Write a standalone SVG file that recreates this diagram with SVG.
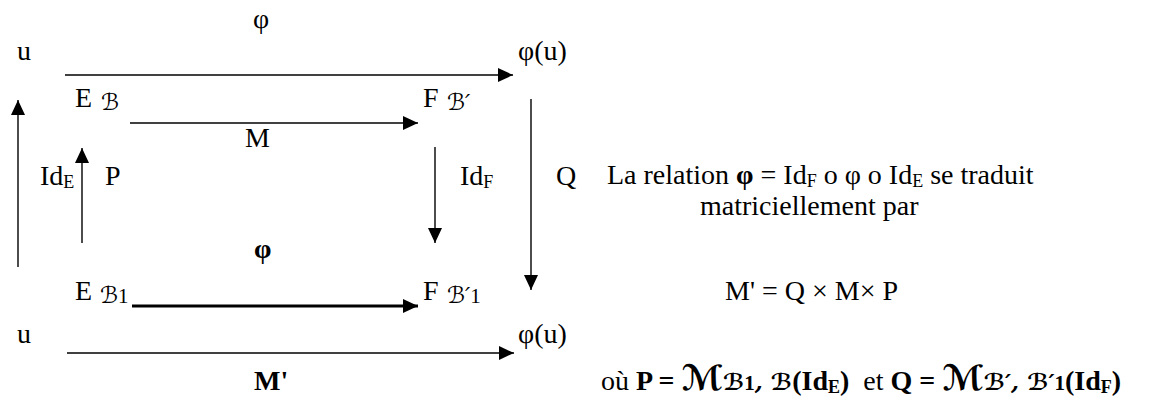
<svg xmlns="http://www.w3.org/2000/svg" width="1162" height="398" viewBox="0 0 1162 398">
<style>
text{font-family:"Liberation Serif","Times New Roman",serif;font-size:28px;fill:#000}
.b{font-weight:bold}
.sub{font-size:18px}
.scr{font-family:"DejaVu Serif","DejaVu Sans",serif;font-style:italic;font-size:23px}
.one{font-family:"Liberation Serif","Times New Roman",serif;font-style:normal;font-size:21px}
.big{font-family:"DejaVu Serif","DejaVu Sans",serif;font-style:italic;font-weight:bold;font-size:35px}
.ln{stroke:#000;stroke-width:1.4;fill:none;marker-end:url(#ah)}
.thick{stroke-width:2.8}
</style>
<defs>
<marker id="ah" markerUnits="userSpaceOnUse" markerWidth="15" markerHeight="14" refX="15" refY="7" orient="auto" viewBox="0 0 15 14">
<path d="M0,0 L15,7 L0,14 z" fill="#000"/>
</marker>
</defs>
<g id="connectors">
<line class="ln" x1="65" y1="75" x2="513" y2="75"/>
<line class="ln" x1="130" y1="123" x2="418" y2="123"/>
<line class="ln thick" x1="132" y1="306" x2="418" y2="306"/>
<line class="ln" x1="67" y1="353" x2="514" y2="353"/>
<line class="ln" x1="18" y1="267" x2="18" y2="100"/>
<line class="ln" x1="82" y1="243" x2="82" y2="148"/>
<line class="ln" x1="435" y1="147" x2="435" y2="243"/>
<line class="ln" x1="531" y1="99" x2="531" y2="290"/>
</g>
<g id="labels">
<text x="253" y="28">φ</text>
<text x="245" y="147">M</text>
<text class="b" x="254" y="258">φ</text>
<text class="b" x="254" y="390">M'</text>
<text x="40" y="185">Id<tspan class="sub" dy="3">E</tspan></text>
<text x="105" y="185">P</text>
<text x="460" y="185">Id<tspan class="sub" dy="3">F</tspan></text>
<text x="556" y="185">Q</text>
</g>
<g id="node-u-top"><text x="17" y="60">u</text></g>
<g id="node-phiu-top"><text x="518" y="60">φ(u)</text></g>
<g id="node-EB"><text x="75" y="107">E</text><text class="scr" x="101" y="110">ℬ</text></g>
<g id="node-FB"><text x="423" y="107">F</text><text class="scr" x="447" y="110">ℬ′</text></g>
<g id="node-EB1"><text x="75" y="300">E</text><text class="scr" x="100" y="303">ℬ<tspan class="one">1</tspan></text></g>
<g id="node-FB1"><text x="423" y="300">F</text><text class="scr" x="447" y="303">ℬ′<tspan class="one">1</tspan></text></g>
<g id="node-u-bot"><text x="17" y="343">u</text></g>
<g id="node-phiu-bot"><text x="518" y="343">φ(u)</text></g>
<g id="explanation">
<text x="607" y="184">La relation <tspan class="b">φ</tspan> = Id<tspan class="sub" dy="3">F</tspan><tspan dy="-3"> o φ o Id</tspan><tspan class="sub" dy="3">E</tspan><tspan dy="-3"> se traduit</tspan></text>
<text x="700" y="215">matriciellement par</text>
<text x="725" y="300">M' = Q × M× P</text>
<text x="601" y="390" xml:space="preserve">où <tspan class="b">P = </tspan><tspan class="big">ℳ</tspan><tspan class="scr" font-weight="bold">ℬ<tspan class="one" font-size="21">1</tspan>, ℬ</tspan><tspan class="b">(Id</tspan><tspan class="b sub" dy="3">E</tspan><tspan class="b" dy="-3">)</tspan>  et <tspan class="b">Q = </tspan><tspan class="big">ℳ</tspan><tspan class="scr" font-weight="bold">ℬ′, ℬ′<tspan class="one" font-size="21">1</tspan></tspan><tspan class="b">(Id</tspan><tspan class="b sub" dy="3">F</tspan><tspan class="b" dy="-3">)</tspan></text>
</g>
</svg>
